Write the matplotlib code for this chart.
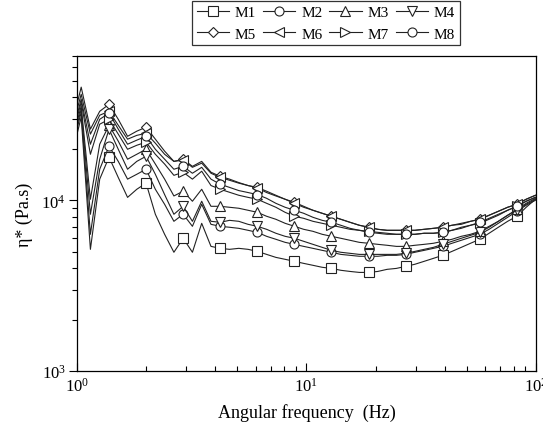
import matplotlib
matplotlib.use("Agg")
import matplotlib.pyplot as plt
from matplotlib.ticker import LogLocator, NullFormatter

plt.rcParams["font.family"] = ["Liberation Serif", "DejaVu Serif"]
plt.rcParams["mathtext.fontset"] = "custom"
plt.rcParams["mathtext.rm"] = "Liberation Serif"
plt.rcParams["mathtext.it"] = "Liberation Serif:italic"

# angular frequency (Hz)
freq = [0.950, 1.043, 1.144, 1.256, 1.379, 1.513, 1.661, 1.822, 2.000, 2.195,
        2.409, 2.644, 2.902, 3.184, 3.495, 3.836, 4.210, 4.620, 5.070, 5.565,
        6.107, 6.703, 7.356, 8.073, 8.860, 9.723, 10.67, 11.71, 12.85, 14.11,
        15.48, 16.99, 18.65, 20.46, 22.46, 24.65, 27.05, 29.69, 32.58, 35.76,
        39.25, 43.07, 47.27, 51.88, 56.94, 62.49, 68.58, 75.27, 82.60, 90.66,
        99.49]

# complex viscosity (Pa.s)
m1 = [18400, 30700, 5160, 13300, 17900, 13600, 10400, 11600, 12600, 8280,
      6320, 4960, 5990, 4960, 7330, 5370, 5230, 5160, 5230, 5160,
      5020, 4820, 4630, 4510, 4390, 4270, 4160, 4050, 3990, 3890,
      3830, 3780, 3780, 3830, 3940, 3990, 4100, 4220, 4390, 4570,
      4760, 5020, 5300, 5600, 5910, 6410, 6950, 7530, 8060, 9100,
      10140]
m2 = [19900, 32800, 6320, 15200, 20700, 16900, 13300, 14200, 15200, 11600,
      9470, 7530, 8280, 7040, 9470, 7230, 7040, 6950, 6850, 6670,
      6490, 6150, 5910, 5670, 5520, 5370, 5230, 5090, 4960, 4820,
      4760, 4700, 4700, 4700, 4760, 4760, 4820, 4960, 5090, 5230,
      5370, 5600, 5830, 6070, 6320, 6760, 7330, 7950, 8620, 9350,
      10000]
m3 = [22200, 35600, 10140, 21300, 27500, 22200, 17400, 18600, 19900, 16300,
      13300, 10600, 11300, 9870, 11600, 9220, 9220, 9100, 8980, 8740,
      8500, 8060, 7740, 7330, 7040, 6760, 6580, 6320, 6150, 5990,
      5830, 5670, 5600, 5520, 5450, 5370, 5370, 5450, 5520, 5600,
      5750, 5910, 6150, 6320, 6580, 7040, 7530, 8170, 8860, 9600,
      10270]
m4 = [21000, 34200, 8280, 17400, 26100, 19900, 15200, 16900, 18100, 14200,
      10800, 8280, 9220, 7530, 9870, 7530, 7430, 7630, 7530, 7230,
      7040, 6760, 6410, 6150, 5990, 5750, 5520, 5300, 5090, 4960,
      4890, 4820, 4820, 4820, 4820, 4820, 4890, 5020, 5160, 5300,
      5520, 5750, 5990, 6230, 6490, 6950, 7530, 8170, 8740, 9470,
      10140]
m5 = [27500, 46000, 26100, 33200, 36500, 29800, 23700, 25400, 26800, 22800,
      19400, 16900, 17400, 15800, 16900, 14600, 13800, 13300, 12700, 12200,
      11900, 11300, 10700, 10140, 9730, 9220, 8740, 8390, 8060, 7740,
      7430, 7140, 6950, 6760, 6670, 6670, 6670, 6670, 6760, 6850,
      6950, 7140, 7330, 7530, 7740, 8170, 8620, 9100, 9470, 10140,
      10700]
m6 = [26100, 41800, 24400, 31500, 33200, 27500, 22800, 24000, 24700, 21600,
      18600, 16900, 17200, 15600, 16500, 14400, 13600, 13100, 12600, 12200,
      11800, 11100, 10600, 10140, 9600, 9100, 8740, 8390, 8060, 7740,
      7430, 7140, 6950, 6760, 6670, 6670, 6670, 6670, 6760, 6850,
      6950, 7140, 7230, 7530, 7740, 8170, 8620, 9100, 9470, 10140,
      10700]
m7 = [23400, 37500, 18600, 27900, 29800, 24400, 19900, 21000, 21900, 18600,
      16300, 14000, 14600, 13300, 14800, 12200, 11600, 11140, 10700, 10400,
      10140, 9600, 9100, 8500, 8060, 7840, 7530, 7330, 7140, 6950,
      6760, 6670, 6580, 6490, 6410, 6320, 6320, 6320, 6410, 6410,
      6490, 6670, 6850, 7140, 7330, 7740, 8170, 8740, 9220, 9870,
      10410]
m8 = [24400, 39100, 21300, 29800, 32400, 26100, 21300, 22500, 23700, 19900,
      17400, 15200, 15800, 14400, 15600, 13300, 12400, 11900, 11400, 11100,
      10800, 10270, 9600, 9100, 8740, 8390, 7950, 7630, 7430, 7140,
      6850, 6670, 6490, 6410, 6320, 6320, 6320, 6320, 6410, 6410,
      6490, 6670, 6950, 7140, 7430, 7840, 8280, 8740, 9220, 9870,
      10410]

labels = ["M1", "M2", "M3", "M4", "M5", "M6", "M7", "M8"]
series = [m1, m2, m3, m4, m5, m6, m7, m8]
markers = ["s", "o", "^", "v", "D", "<", ">", "o"]

fig = plt.figure(figsize=(5.43, 4.27), dpi=100)
ax = fig.add_axes([0.1418, 0.1288, 0.8452, 0.7377])

handles = []
for label, values, mk in zip(labels, series, markers):
    ms = 5.5 if mk == "D" else 6.5
    h, = ax.plot(freq, values, color="#222222", linewidth=0.8, marker=mk,
                 markersize=ms, markerfacecolor="white", markeredgecolor="#222222",
                 markeredgewidth=0.8, markevery=(4, 4), label=label)
    handles.append(h)

ax.set_xscale("log")
ax.set_yscale("log")
ax.set_xlim(1, 100)
ax.set_ylim(1e3, 7e4)

ax.xaxis.set_minor_locator(LogLocator(base=10, subs=range(2, 10)))
ax.yaxis.set_minor_locator(LogLocator(base=10, subs=range(2, 10)))
ax.xaxis.set_minor_formatter(NullFormatter())
ax.yaxis.set_minor_formatter(NullFormatter())
ax.tick_params(which="both", top=False, right=False, labelsize=12, width=0.8)
ax.tick_params(axis="y", which="both", direction="out", pad=2)
ax.tick_params(axis="x", which="both", direction="in", pad=4)
ax.tick_params(which="major", length=6)
ax.tick_params(which="minor", length=3.5)
for s in ax.spines.values():
    s.set_linewidth(0.9)

ax.set_xlabel("Angular frequency  (Hz)", fontsize=13, labelpad=6)
ax.set_ylabel("η* (Pa.s)", fontsize=13, labelpad=6)

# legend fills column-wise, so interleave rows: M1..M4 on top, M5..M8 below
order = [0, 4, 1, 5, 2, 6, 3, 7]
leg = fig.legend([handles[i] for i in order], [labels[i] for i in order],
                 loc="upper center", bbox_to_anchor=(0.6004, 0.995), ncol=4,
                 fontsize=11, frameon=True, fancybox=False, edgecolor="black",
                 handlelength=2.1, handletextpad=0.4, columnspacing=0.45,
                 borderpad=0.3, labelspacing=0.5, borderaxespad=0.0)
leg.get_frame().set_linewidth(0.9)

fig.savefig("out.png", dpi=100)
